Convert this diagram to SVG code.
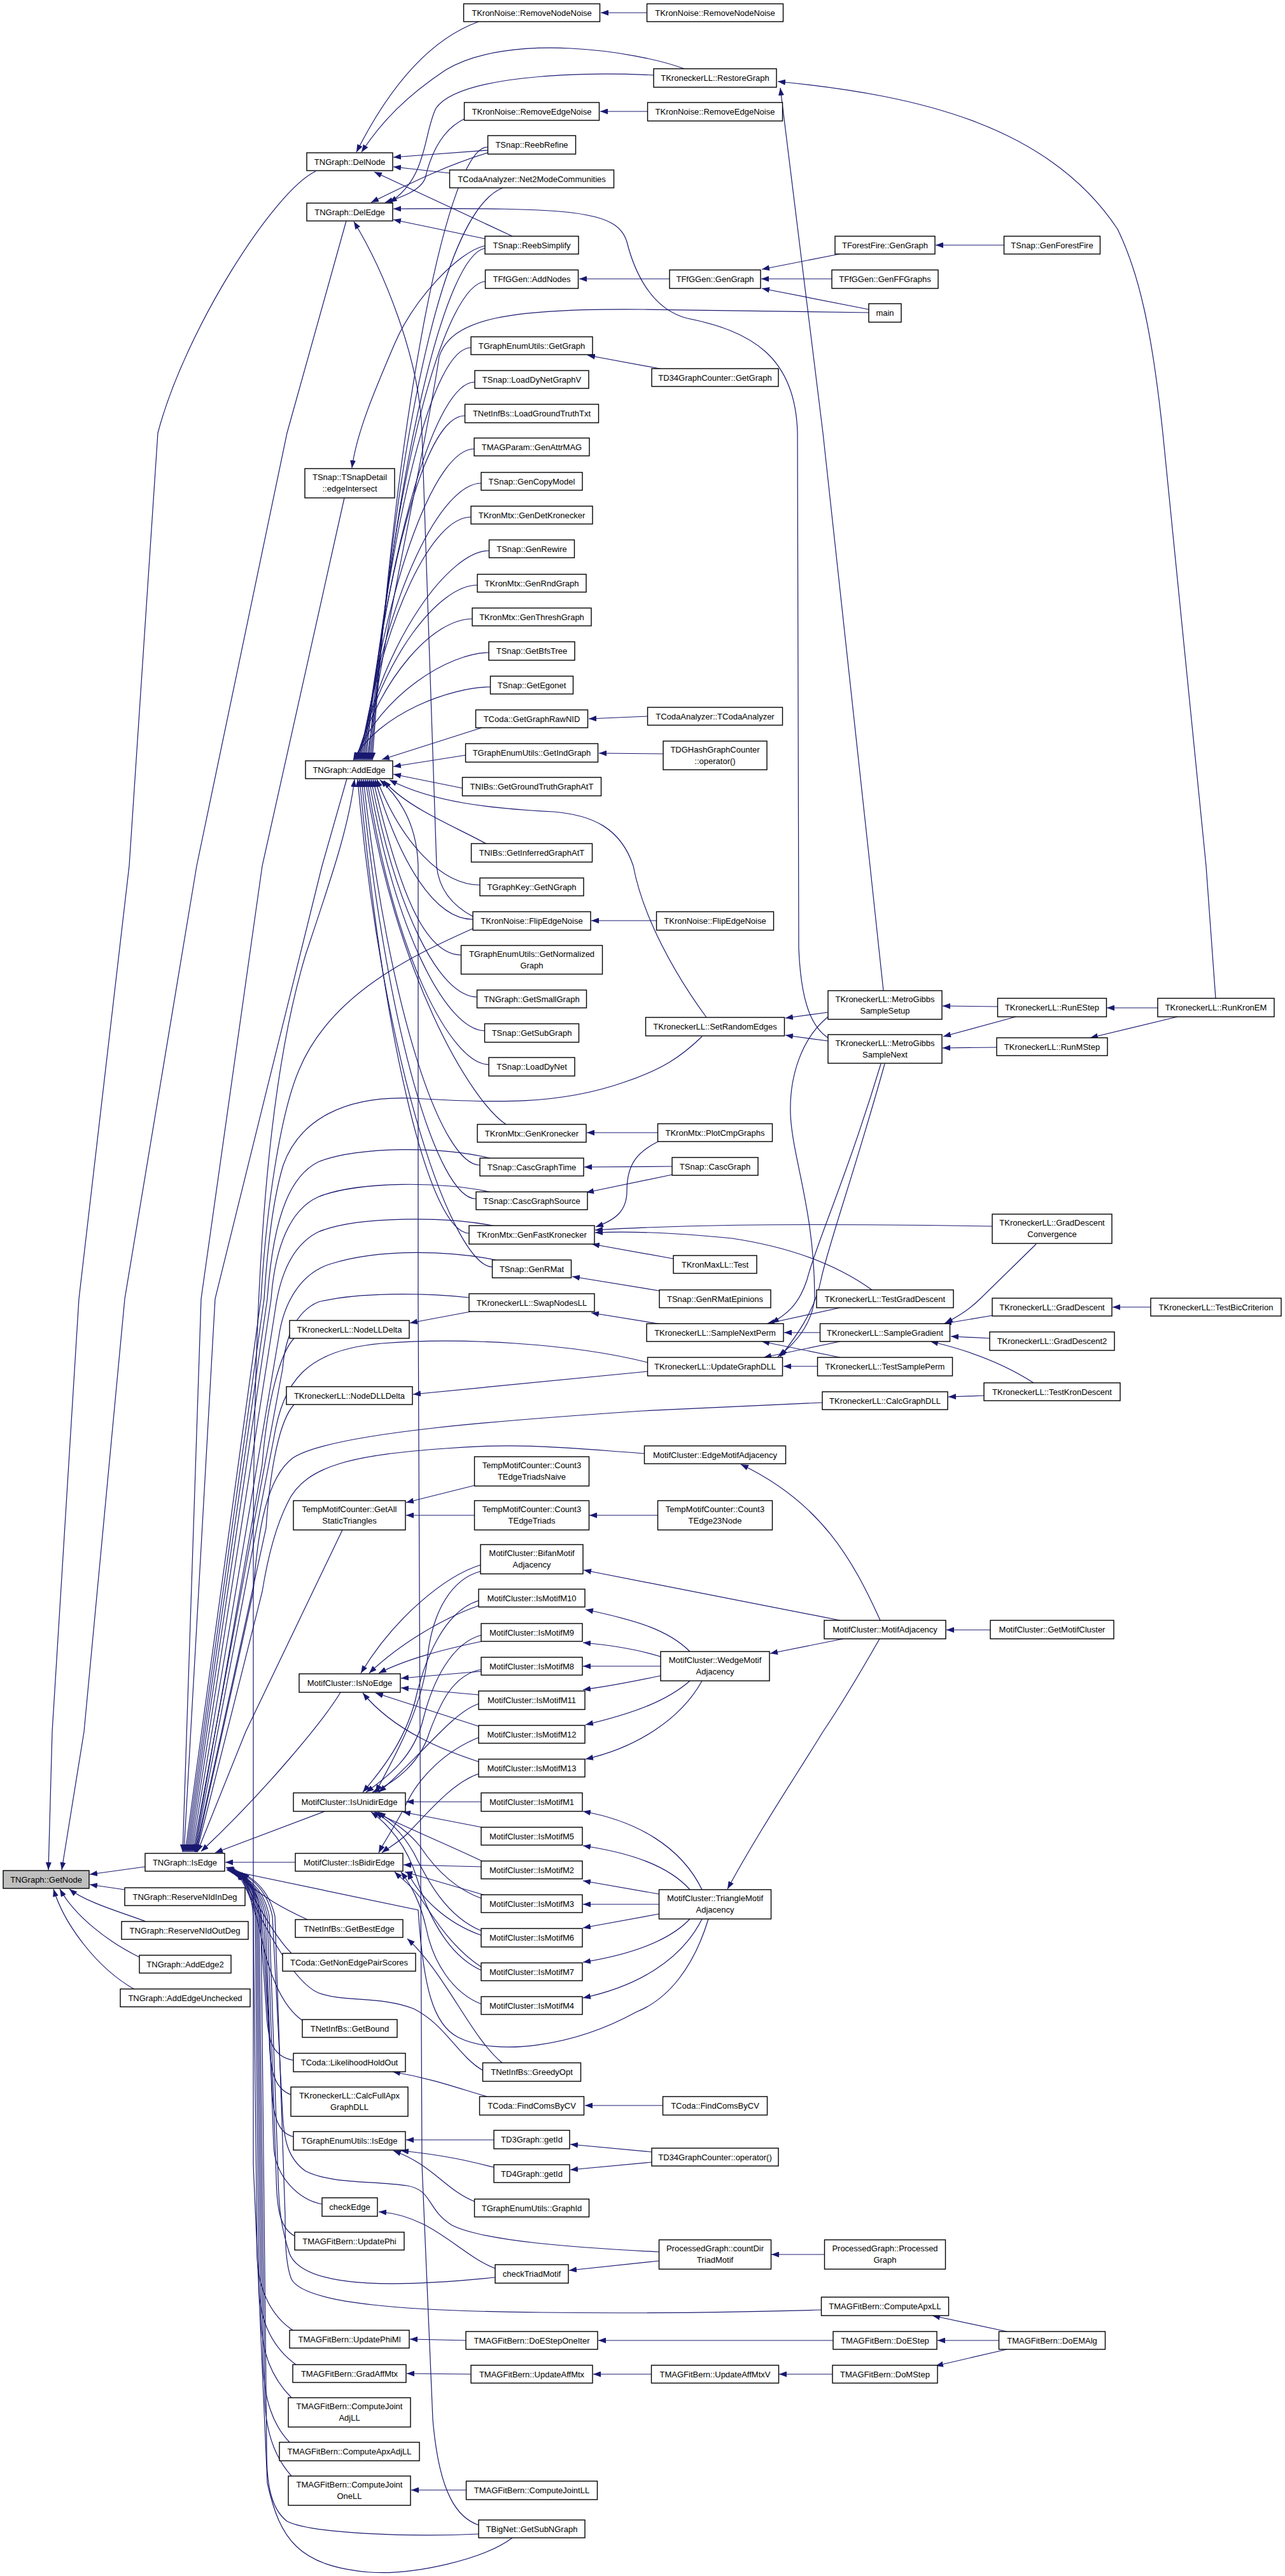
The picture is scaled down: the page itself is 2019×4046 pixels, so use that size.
<svg xmlns="http://www.w3.org/2000/svg" width="2019" height="4046" viewBox="0 0 2019 4046">
<defs>
<marker id="ah" viewBox="0 0 12 9" refX="12" refY="4.5" markerWidth="12" markerHeight="9" markerUnits="userSpaceOnUse" orient="auto"><path d="M0,0 L12,4.5 L0,9 z" fill="#191970"/></marker>
<style>
.n rect{fill:#fff;stroke:#000;stroke-width:1.4}
.n text{font-family:"Liberation Sans",Arial,sans-serif;font-size:13px;text-anchor:middle;fill:#000}
.g rect{fill:#bfbfbf}
#edges path{fill:none;stroke:#191970;stroke-width:1.2;marker-end:url(#ah)}
</style>
</defs>
<rect x="0" y="0" width="2019" height="4046" fill="#fff"/>
<g id="edges">
<path d="M228,2932 L141,2944"/>
<path d="M196,2968 L141,2960"/>
<path d="M229,3018 C195,3005 135,2988 109,2967"/>
<path d="M219,3074 C170,3050 118,3010 94,2967"/>
<path d="M212,3125 C150,3090 100,3020 84,2967"/>
<path d="M496,269 C430,300 290,520 248,680 L203,1360 L124,2040 L82,2720 L76,2937"/>
<path d="M544,347 L451,680 L309,1360 L196,2040 L132,2720 L97,2937"/>
<path d="M752,34 C680,60 615,130 560,239"/>
<path d="M1075,108 C1000,80 800,50 700,110 C640,150 600,190 568,239"/>
<path d="M766,236 L618,247"/>
<path d="M707,272 L618,262"/>
<path d="M805,371 L588,270"/>
<path d="M731,186 C690,205 675,250 668,280 C660,300 630,310 605,318"/>
<path d="M766,240 C700,260 640,290 583,318"/>
<path d="M1027,118 C900,112 720,120 685,170 C665,210 672,280 612,318"/>
<path d="M762,375 L618,345"/>
<path d="M1301,1630 C1270,1610 1258,1560 1255,1490 L1253,680 C1250,560 1180,520 1080,500 C1020,485 995,420 985,380 C970,330 900,326 618,328"/>
<path d="M752,3966 C720,3955 690,3920 680,3800 L663,3400 L657,2040 L657,1360 C655,1290 625,1250 597,1225"/>
<path d="M744,1440 C715,1425 690,1400 686,1360 L663,680 C660,560 600,420 556,348"/>
<path d="M762,386 C720,395 650,470 620,540 C590,610 560,680 553,735"/>
<path d="M766,231 C706,231 625,619 585,1194"/>
<path d="M790,295 C700,330 625,650 583,1194"/>
<path d="M762,390 C702,400 621,712 581,1194"/>
<path d="M763,442 C703,445 619,716 579,1194"/>
<path d="M1365,491 L1010,486 C800,484 710,500 690,560 C670,700 600,1000 577,1194"/>
<path d="M740,546 C680,546 615,805 575,1194"/>
<path d="M746,600 C686,600 613,838 573,1194"/>
<path d="M730,653 C670,653 611,870 571,1194"/>
<path d="M745,705 C685,705 609,900 569,1194"/>
<path d="M756,759 C696,759 607,920 567,1194"/>
<path d="M740,812 C680,812 605,960 565,1194"/>
<path d="M768,865 C708,865 603,1000 563,1194"/>
<path d="M750,919 C690,919 601,1030 561,1194"/>
<path d="M742,972 C682,972 599,1060 559,1194"/>
<path d="M768,1025 C708,1025 597,1090 557,1194"/>
<path d="M770,1079 C710,1079 595,1120 555,1194"/>
<path d="M757,1143 L600,1193"/>
<path d="M732,1186 L618,1204"/>
<path d="M727,1238 L618,1216"/>
<path d="M767,1327 C720,1300 640,1270 603,1226"/>
<path d="M1110,1598 C1060,1530 1010,1440 995,1360 C975,1300 930,1280 870,1275 C770,1270 680,1260 612,1225"/>
<path d="M754,1390 C694,1390 632,1325 592,1224"/>
<path d="M743,1444 C683,1444 629,1357 589,1224"/>
<path d="M725,1500 C665,1500 626,1394 586,1224"/>
<path d="M750,1566 C690,1566 623,1431 583,1224"/>
<path d="M762,1619 C702,1619 620,1463 580,1224"/>
<path d="M768,1672 C708,1672 617,1495 577,1224"/>
<path d="M795,1766 C740,1730 620,1530 574,1224"/>
<path d="M754,1830 C694,1830 611,1589 571,1224"/>
<path d="M748,1883 C688,1883 608,1621 568,1224"/>
<path d="M737,1937 C677,1937 605,1654 565,1224"/>
<path d="M774,1990 C714,1990 602,1685 562,1224"/>
<path d="M805,3986 C760,4020 650,4045 580,4040 C470,4030 440,3990 420,3900 L398,3400 L398,2400 C400,2000 420,1700 480,1500 C520,1380 548,1300 557,1224"/>
<path d="M541,782 L412,1360 L316,2040 L287,2909"/>
<path d="M545,1223 L506,1360 L338,2040 L289,2909"/>
<path d="M744,1458 C650,1500 520,1560 470,1680 C440,1750 418,1900 410,2040 L291,2909"/>
<path d="M1103,1628 C1070,1660 1040,1680 980,1700 C880,1735 780,1733 650,1725 C540,1720 470,1760 445,1830 C430,1880 420,1960 415,2040 L293,2909"/>
<path d="M773,1820 C700,1800 560,1800 500,1825 C460,1845 430,1900 420,2040 L295,2909"/>
<path d="M773,1873 C700,1855 560,1855 500,1880 C455,1900 432,1960 426,2040 L297,2909"/>
<path d="M779,1926 C700,1910 560,1910 500,1935 C460,1955 440,2000 432,2060 L299,2909"/>
<path d="M779,1979 C710,1965 600,1960 520,1985 C470,2000 445,2050 438,2100 L301,2909"/>
<path d="M737,2038 C660,2030 560,2030 500,2045 C465,2060 448,2100 444,2150 L303,2909"/>
<path d="M462,2102 C440,2125 420,2200 412,2300 L305,2909"/>
<path d="M1018,2140 C900,2110 720,2100 600,2110 C480,2120 445,2170 430,2260 L306,2909"/>
<path d="M462,2206 C440,2230 425,2300 418,2400 L307,2909"/>
<path d="M1292,2203 L1010,2216 C800,2230 520,2250 460,2290 C420,2320 405,2400 398,2500 L308,2909"/>
<path d="M1013,2283 C900,2275 820,2265 700,2275 C560,2285 480,2300 452,2360 C432,2400 420,2450 412,2500 L309,2909"/>
<path d="M538,2403 L386,2720 L310,2909"/>
<path d="M535,2658 C510,2700 420,2810 316,2908"/>
<path d="M510,2845 L338,2910"/>
<path d="M464,2925 L354,2925"/>
<path d="M483,3015 C450,3000 410,2980 370,2941"/>
<path d="M458,3068 C430,3040 405,2990 375,2941"/>
<path d="M476,3174 C440,3150 420,3090 410,3040 C400,2990 385,2960 372,2941"/>
<path d="M461,3236 C425,3230 420,3200 418,3150 L408,3010 Q402,2960 368,2940"/>
<path d="M457,3290 C430,3280 424,3250 423,3200 L411,3010 Q404,2958 365,2940"/>
<path d="M461,3356 C435,3350 428,3320 427,3270 L414,3010 Q406,2958 363,2939"/>
<path d="M506,3462 C470,3455 432,3420 430,3370 L417,3010 Q408,2956 361,2938"/>
<path d="M463,3512 C440,3500 435,3470 434,3420 L420,3010 Q410,2954 359,2937"/>
<path d="M778,3577 C650,3590 480,3600 455,3540 C442,3500 438,3470 437,3420 L423,3010 Q412,2952 357,2936"/>
<path d="M1036,3537 C900,3530 760,3520 710,3495 C670,3470 680,3440 640,3433 C580,3425 520,3430 480,3410 C452,3390 446,3360 444,3320 L428,3010 Q416,2950 356,2934"/>
<path d="M1291,3628 C1150,3632 1010,3634 850,3632 C650,3630 480,3620 458,3580 C450,3560 448,3530 448,3480 L432,3010 Q418,2948 355,2933"/>
<path d="M460,3660 C430,3640 404,3600 404,3540 L398,3010 Q395,2962 372,2941"/>
<path d="M465,3714 C432,3690 407,3650 407,3590 L401,3010 Q397,2962 373,2941"/>
<path d="M458,3766 C432,3740 410,3700 410,3640 L403,3010 Q398,2962 374,2941"/>
<path d="M455,3836 C430,3810 413,3770 413,3700 L405,3010 Q400,2962 376,2941"/>
<path d="M458,3889 C432,3860 416,3820 416,3760 L407,3010 Q402,2962 378,2941"/>
<path d="M752,3980 C650,3985 490,3980 451,3960 C425,3940 419,3900 419,3850 L410,3010 Q404,2962 380,2941"/>
<path d="M759,3252 C720,3230 700,3180 650,3155 C600,3135 540,3145 500,3130 C465,3115 420,3040 376,2941"/>
<path d="M1113,3014 C1090,3090 1050,3140 1000,3160 C900,3215 780,3230 720,3200 C680,3180 665,3120 657,3000 L356,2937"/>
<path d="M789,3240 C740,3200 700,3100 640,3045"/>
<path d="M765,3293 C720,3280 680,3265 617,3254"/>
<path d="M1042,3307 L919,3307"/>
<path d="M776,3361 L638,3361"/>
<path d="M776,3404 C740,3395 700,3385 630,3378"/>
<path d="M746,3458 C700,3440 680,3400 618,3378"/>
<path d="M1024,3380 L896,3368"/>
<path d="M1024,3396 L896,3408"/>
<path d="M778,3563 C720,3540 680,3480 595,3474"/>
<path d="M1036,3551 L894,3566"/>
<path d="M1296,3541 L1212,3541"/>
<path d="M732,3676 L644,3674"/>
<path d="M741,3729 L639,3728"/>
<path d="M1024,3729 L932,3729"/>
<path d="M733,3911 L646,3911"/>
<path d="M1309,3676 L940,3676"/>
<path d="M1308,3729 L1224,3729"/>
<path d="M1570,3676 L1473,3676"/>
<path d="M1582,3690 L1470,3716"/>
<path d="M1582,3662 L1465,3637"/>
<path d="M1016,20 L944,20"/>
<path d="M1018,175 L943,175"/>
<path d="M1388,1556 L1367,1360 L1293,680 L1226,138"/>
<path d="M1910,1568 L1895,1360 L1827,680 C1810,520 1790,430 1756,360 C1650,200 1450,150 1222,128"/>
<path d="M1052,438 L910,438"/>
<path d="M1319,399 L1197,423"/>
<path d="M1307,438 L1196,438"/>
<path d="M1365,486 L1197,453"/>
<path d="M1578,385 L1470,385"/>
<path d="M1042,580 L923,558"/>
<path d="M1018,1125 L925,1129"/>
<path d="M1042,1184 L941,1183"/>
<path d="M1032,1446 L929,1446"/>
<path d="M1301,1590 L1234,1599"/>
<path d="M1301,1635 L1234,1626"/>
<path d="M1568,1581 L1481,1580"/>
<path d="M1596,1597 L1482,1628"/>
<path d="M1566,1645 L1481,1646"/>
<path d="M1819,1583 L1739,1583"/>
<path d="M1850,1597 L1713,1630"/>
<path d="M1034,1779 L922,1779"/>
<path d="M1056,1832 L918,1833"/>
<path d="M1056,1845 L921,1873"/>
<path d="M1034,1793 C1000,1810 985,1830 985,1870 C985,1900 970,1915 936,1927"/>
<path d="M1559,1926 C1300,1922 1100,1922 935,1932"/>
<path d="M1370,2026 C1320,1990 1250,1960 1150,1945 C1050,1935 980,1934 935,1936"/>
<path d="M1058,1977 L930,1954"/>
<path d="M1040,2028 L899,2005"/>
<path d="M1040,2080 L929,2062"/>
<path d="M740,2060 L644,2078"/>
<path d="M1018,2154 L649,2190"/>
<path d="M1289,2093 L1232,2093"/>
<path d="M1320,2054 L1205,2079"/>
<path d="M1320,2132 L1197,2107"/>
<path d="M1384,1671 C1330,1850 1280,1960 1268,2010 C1255,2050 1235,2065 1212,2078"/>
<path d="M1301,1597 C1260,1630 1240,1690 1242,1750 C1245,1820 1280,1900 1280,2040 C1275,2080 1250,2110 1222,2131"/>
<path d="M1390,1671 C1340,1850 1300,1960 1290,2010 C1280,2060 1250,2100 1226,2131"/>
<path d="M1320,2107 L1200,2132"/>
<path d="M1285,2146 L1231,2146"/>
<path d="M1560,2066 L1483,2079"/>
<path d="M1628,1954 L1540,2040 C1525,2055 1505,2068 1485,2078"/>
<path d="M1555,2102 L1494,2099"/>
<path d="M1624,2172 C1590,2150 1540,2125 1462,2107"/>
<path d="M1808,2053 L1748,2053"/>
<path d="M1546,2192 L1490,2194"/>
<path d="M746,2333 L638,2360"/>
<path d="M745,2380 L638,2380"/>
<path d="M1034,2380 L926,2380"/>
<path d="M1556,2560 L1487,2560"/>
<path d="M1320,2545 L917,2466"/>
<path d="M1383,2545 C1340,2450 1290,2360 1164,2300"/>
<path d="M1325,2574 L1210,2597"/>
<path d="M1382,2574 C1350,2630 1320,2680 1293,2720 C1250,2790 1190,2880 1143,2967"/>
<path d="M1084,2594 C1050,2560 1000,2545 920,2528"/>
<path d="M1038,2602 C1000,2590 960,2584 916,2580"/>
<path d="M1038,2617 L916,2617"/>
<path d="M1038,2632 C1000,2640 960,2648 916,2654"/>
<path d="M1084,2640 C1050,2670 1000,2690 920,2709"/>
<path d="M1103,2640 C1070,2700 1000,2745 920,2763"/>
<path d="M1103,2968 C1070,2900 1000,2860 916,2845"/>
<path d="M1084,2968 C1050,2930 990,2910 916,2899"/>
<path d="M1036,2975 L916,2954"/>
<path d="M1036,2991 L916,2991"/>
<path d="M1036,3006 L916,3028"/>
<path d="M1084,3014 C1050,3050 990,3070 916,3082"/>
<path d="M1103,3014 C1070,3080 1000,3120 916,3138"/>
<path d="M755,2458 C700,2475 620,2540 567,2628"/>
<path d="M755,2468 C710,2480 680,2530 672,2600 C665,2680 620,2760 590,2815"/>
<path d="M752,2522 C700,2540 630,2580 580,2628"/>
<path d="M752,2514 C700,2530 670,2600 655,2660 C640,2730 600,2780 570,2815"/>
<path d="M757,2578 C700,2590 640,2605 595,2628"/>
<path d="M757,2568 C710,2580 680,2640 665,2700 C650,2760 610,2790 575,2815"/>
<path d="M757,2625 L630,2636"/>
<path d="M757,2622 C710,2630 690,2680 675,2720 C660,2770 620,2800 585,2815"/>
<path d="M752,2662 L630,2651"/>
<path d="M752,2676 C710,2690 660,2760 595,2815"/>
<path d="M754,2712 L590,2659"/>
<path d="M752,2729 C700,2750 660,2790 640,2830 C620,2870 605,2890 595,2910"/>
<path d="M752,2767 C700,2750 620,2720 570,2659"/>
<path d="M752,2786 C710,2800 670,2850 640,2880 C625,2895 610,2902 600,2910"/>
<path d="M756,2830 L638,2830"/>
<path d="M757,2870 L633,2846"/>
<path d="M757,2932 L634,2929"/>
<path d="M757,2923 C720,2905 660,2880 588,2846"/>
<path d="M763,2977 L636,2940"/>
<path d="M757,2982 C710,2965 680,2930 660,2900 C640,2875 615,2860 594,2846"/>
<path d="M757,3040 C700,3020 660,2980 640,2940"/>
<path d="M757,3033 C700,3010 670,2950 650,2910 C630,2875 610,2860 590,2846"/>
<path d="M757,3095 C700,3070 670,3000 655,2950 C640,2900 610,2865 583,2846"/>
<path d="M757,3090 C710,3060 680,3010 660,2980 C645,2960 630,2950 620,2940"/>
<path d="M757,3148 C710,3130 680,3080 670,3030 C660,2985 645,2960 630,2940"/>
</g>
<g id="nodes">
<g id="n_getnode" class="n g"><rect x="5" y="2938" width="135" height="28"/><text x="72.5" y="2957">TNGraph::GetNode</text></g>
<g id="n_isedge" class="n"><rect x="228" y="2911" width="125" height="28"/><text x="290.5" y="2930">TNGraph::IsEdge</text></g>
<g id="n_reservein" class="n"><rect x="196" y="2965" width="189" height="28"/><text x="290.5" y="2984">TNGraph::ReserveNIdInDeg</text></g>
<g id="n_reserveout" class="n"><rect x="191" y="3018" width="199" height="28"/><text x="290.5" y="3037">TNGraph::ReserveNIdOutDeg</text></g>
<g id="n_addedge2" class="n"><rect x="219" y="3071" width="144" height="28"/><text x="291" y="3090">TNGraph::AddEdge2</text></g>
<g id="n_addedgeunch" class="n"><rect x="189" y="3124" width="204" height="28"/><text x="291" y="3143">TNGraph::AddEdgeUnchecked</text></g>
<g id="n_delnode" class="n"><rect x="482" y="240" width="135" height="28"/><text x="549.5" y="259">TNGraph::DelNode</text></g>
<g id="n_deledge" class="n"><rect x="482" y="319" width="135" height="28"/><text x="549.5" y="338">TNGraph::DelEdge</text></g>
<g id="n_edgeint" class="n"><rect x="479" y="736" width="141" height="46"/><text x="549.5" y="754">TSnap::TSnapDetail</text><text x="549.5" y="772">::edgeIntersect</text></g>
<g id="n_addedge" class="n"><rect x="480" y="1195" width="137" height="28"/><text x="548.5" y="1214">TNGraph::AddEdge</text></g>
<g id="n_nodelldelta" class="n"><rect x="455" y="2074" width="188" height="28"/><text x="549" y="2093">TKroneckerLL::NodeLLDelta</text></g>
<g id="n_nodedlldelta" class="n"><rect x="450" y="2178" width="198" height="28"/><text x="549" y="2197">TKroneckerLL::NodeDLLDelta</text></g>
<g id="n_getallstatic" class="n"><rect x="461" y="2357" width="176" height="46"/><text x="549" y="2375">TempMotifCounter::GetAll</text><text x="549" y="2393">StaticTriangles</text></g>
<g id="n_isnoedge" class="n"><rect x="470" y="2629" width="159" height="29"/><text x="549.5" y="2648">MotifCluster::IsNoEdge</text></g>
<g id="n_isunidir" class="n"><rect x="461" y="2816" width="176" height="29"/><text x="549" y="2835">MotifCluster::IsUnidirEdge</text></g>
<g id="n_isbidir" class="n"><rect x="464" y="2911" width="169" height="28"/><text x="548.5" y="2930">MotifCluster::IsBidirEdge</text></g>
<g id="n_getbestedge" class="n"><rect x="464" y="3015" width="169" height="28"/><text x="548.5" y="3034">TNetInfBs::GetBestEdge</text></g>
<g id="n_getnonedge" class="n"><rect x="444" y="3068" width="209" height="28"/><text x="548.5" y="3087">TCoda::GetNonEdgePairScores</text></g>
<g id="n_getbound" class="n"><rect x="475" y="3172" width="149" height="28"/><text x="549.5" y="3191">TNetInfBs::GetBound</text></g>
<g id="n_likelihood" class="n"><rect x="461" y="3225" width="176" height="29"/><text x="549" y="3244">TCoda::LikelihoodHoldOut</text></g>
<g id="n_calcfullapx" class="n"><rect x="457" y="3278" width="184" height="46"/><text x="549" y="3296">TKroneckerLL::CalcFullApx</text><text x="549" y="3314">GraphDLL</text></g>
<g id="n_tgeuisedge" class="n"><rect x="461" y="3348" width="176" height="29"/><text x="549" y="3367">TGraphEnumUtils::IsEdge</text></g>
<g id="n_checkedge" class="n"><rect x="506" y="3452" width="87" height="29"/><text x="549.5" y="3471">checkEdge</text></g>
<g id="n_updatephi" class="n"><rect x="463" y="3506" width="172" height="28"/><text x="549" y="3525">TMAGFitBern::UpdatePhi</text></g>
<g id="n_updatephiml" class="n"><rect x="455" y="3660" width="188" height="28"/><text x="549" y="3679">TMAGFitBern::UpdatePhiMl</text></g>
<g id="n_gradaffmtx" class="n"><rect x="460" y="3714" width="178" height="28"/><text x="549" y="3733">TMAGFitBern::GradAffMtx</text></g>
<g id="n_cjadjll" class="n"><rect x="453" y="3766" width="192" height="46"/><text x="549" y="3784">TMAGFitBern::ComputeJoint</text><text x="549" y="3802">AdjLL</text></g>
<g id="n_capxadjll" class="n"><rect x="439" y="3836" width="220" height="29"/><text x="549" y="3855">TMAGFitBern::ComputeApxAdjLL</text></g>
<g id="n_cjonell" class="n"><rect x="453" y="3889" width="192" height="46"/><text x="549" y="3907">TMAGFitBern::ComputeJoint</text><text x="549" y="3925">OneLL</text></g>
<g id="n_rmnodenoise3" class="n"><rect x="728.5" y="6" width="214" height="28"/><text x="835.5" y="25">TKronNoise::RemoveNodeNoise</text></g>
<g id="n_rmedgenoise3" class="n"><rect x="729.5" y="161" width="212" height="28"/><text x="835.5" y="180">TKronNoise::RemoveEdgeNoise</text></g>
<g id="n_reebrefine" class="n"><rect x="766.5" y="213" width="138" height="29"/><text x="835.5" y="232">TSnap::ReebRefine</text></g>
<g id="n_net2mode" class="n"><rect x="706.5" y="267" width="258" height="28"/><text x="835.5" y="286">TCodaAnalyzer::Net2ModeCommunities</text></g>
<g id="n_reebsimplify" class="n"><rect x="762" y="371" width="147" height="28"/><text x="835.5" y="390">TSnap::ReebSimplify</text></g>
<g id="n_addnodes" class="n"><rect x="762.5" y="424" width="146" height="29"/><text x="835.5" y="443">TFfGGen::AddNodes</text></g>
<g id="n_getgraph3" class="n"><rect x="740" y="529" width="191" height="28"/><text x="835.5" y="548">TGraphEnumUtils::GetGraph</text></g>
<g id="n_loaddynetgraphv" class="n"><rect x="746" y="582" width="179" height="28"/><text x="835.5" y="601">TSnap::LoadDyNetGraphV</text></g>
<g id="n_loadgroundtruth" class="n"><rect x="730.5" y="635" width="210" height="29"/><text x="835.5" y="654">TNetInfBs::LoadGroundTruthTxt</text></g>
<g id="n_genattrmag" class="n"><rect x="745" y="688" width="181" height="28"/><text x="835.5" y="707">TMAGParam::GenAttrMAG</text></g>
<g id="n_gencopymodel" class="n"><rect x="756" y="742" width="159" height="28"/><text x="835.5" y="761">TSnap::GenCopyModel</text></g>
<g id="n_gendetkron" class="n"><rect x="740" y="795" width="191" height="28"/><text x="835.5" y="814">TKronMtx::GenDetKronecker</text></g>
<g id="n_genrewire" class="n"><rect x="768.5" y="848" width="134" height="28"/><text x="835.5" y="867">TSnap::GenRewire</text></g>
<g id="n_genrndgraph" class="n"><rect x="750" y="902" width="171" height="28"/><text x="835.5" y="921">TKronMtx::GenRndGraph</text></g>
<g id="n_genthresh" class="n"><rect x="742" y="955" width="187" height="28"/><text x="835.5" y="974">TKronMtx::GenThreshGraph</text></g>
<g id="n_getbfstree" class="n"><rect x="768" y="1008" width="135" height="29"/><text x="835.5" y="1027">TSnap::GetBfsTree</text></g>
<g id="n_getegonet" class="n"><rect x="770.5" y="1062" width="130" height="28"/><text x="835.5" y="1081">TSnap::GetEgonet</text></g>
<g id="n_getgraphrawnid" class="n"><rect x="747.5" y="1115" width="176" height="28"/><text x="835.5" y="1134">TCoda::GetGraphRawNID</text></g>
<g id="n_getindgraph" class="n"><rect x="731.5" y="1168" width="208" height="29"/><text x="835.5" y="1187">TGraphEnumUtils::GetIndGraph</text></g>
<g id="n_getgroundtruth" class="n"><rect x="726.5" y="1221" width="218" height="29"/><text x="835.5" y="1240">TNIBs::GetGroundTruthGraphAtT</text></g>
<g id="n_getinferred" class="n"><rect x="740.5" y="1325" width="190" height="29"/><text x="835.5" y="1344">TNIBs::GetInferredGraphAtT</text></g>
<g id="n_getngraph" class="n"><rect x="754" y="1379" width="163" height="28"/><text x="835.5" y="1398">TGraphKey::GetNGraph</text></g>
<g id="n_flipedge3" class="n"><rect x="743" y="1432" width="185" height="29"/><text x="835.5" y="1451">TKronNoise::FlipEdgeNoise</text></g>
<g id="n_getnormalized" class="n"><rect x="724.5" y="1485" width="222" height="45"/><text x="835.5" y="1503">TGraphEnumUtils::GetNormalized</text><text x="835.5" y="1521">Graph</text></g>
<g id="n_getsmallgraph" class="n"><rect x="749.5" y="1555" width="172" height="28"/><text x="835.5" y="1574">TNGraph::GetSmallGraph</text></g>
<g id="n_getsubgraph" class="n"><rect x="761.5" y="1608" width="148" height="29"/><text x="835.5" y="1627">TSnap::GetSubGraph</text></g>
<g id="n_loaddynet" class="n"><rect x="768" y="1661" width="135" height="29"/><text x="835.5" y="1680">TSnap::LoadDyNet</text></g>
<g id="n_genkronecker" class="n"><rect x="750" y="1766" width="171" height="28"/><text x="835.5" y="1785">TKronMtx::GenKronecker</text></g>
<g id="n_cascgraphtime" class="n"><rect x="754" y="1819" width="163" height="28"/><text x="835.5" y="1838">TSnap::CascGraphTime</text></g>
<g id="n_cascgraphsource" class="n"><rect x="748" y="1872" width="175" height="28"/><text x="835.5" y="1891">TSnap::CascGraphSource</text></g>
<g id="n_genfastkron" class="n"><rect x="737" y="1925" width="197" height="29"/><text x="835.5" y="1944">TKronMtx::GenFastKronecker</text></g>
<g id="n_genrmat" class="n"><rect x="773.5" y="1979" width="124" height="28"/><text x="835.5" y="1998">TSnap::GenRMat</text></g>
<g id="n_swapnodesll" class="n"><rect x="737" y="2032" width="197" height="28"/><text x="835.5" y="2051">TKroneckerLL::SwapNodesLL</text></g>
<g id="n_count3naive" class="n"><rect x="745.5" y="2288" width="180" height="46"/><text x="835.5" y="2306">TempMotifCounter::Count3</text><text x="835.5" y="2324">TEdgeTriadsNaive</text></g>
<g id="n_count3triads" class="n"><rect x="745.5" y="2357" width="180" height="46"/><text x="835.5" y="2375">TempMotifCounter::Count3</text><text x="835.5" y="2393">TEdgeTriads</text></g>
<g id="n_bifan" class="n"><rect x="755" y="2426" width="161" height="46"/><text x="835.5" y="2444">MotifCluster::BifanMotif</text><text x="835.5" y="2462">Adjacency</text></g>
<g id="n_m10" class="n"><rect x="752" y="2496" width="167" height="28"/><text x="835.5" y="2515">MotifCluster::IsMotifM10</text></g>
<g id="n_m9" class="n"><rect x="756" y="2550" width="159" height="28"/><text x="835.5" y="2569">MotifCluster::IsMotifM9</text></g>
<g id="n_m8" class="n"><rect x="756" y="2603" width="159" height="28"/><text x="835.5" y="2622">MotifCluster::IsMotifM8</text></g>
<g id="n_m11" class="n"><rect x="752" y="2656" width="167" height="29"/><text x="835.5" y="2675">MotifCluster::IsMotifM11</text></g>
<g id="n_m12" class="n"><rect x="752" y="2710" width="167" height="28"/><text x="835.5" y="2729">MotifCluster::IsMotifM12</text></g>
<g id="n_m13" class="n"><rect x="752" y="2763" width="167" height="28"/><text x="835.5" y="2782">MotifCluster::IsMotifM13</text></g>
<g id="n_m1" class="n"><rect x="756" y="2816" width="159" height="29"/><text x="835.5" y="2835">MotifCluster::IsMotifM1</text></g>
<g id="n_m5" class="n"><rect x="756" y="2870" width="159" height="28"/><text x="835.5" y="2889">MotifCluster::IsMotifM5</text></g>
<g id="n_m2" class="n"><rect x="756" y="2923" width="159" height="28"/><text x="835.5" y="2942">MotifCluster::IsMotifM2</text></g>
<g id="n_m3" class="n"><rect x="756" y="2976" width="159" height="28"/><text x="835.5" y="2995">MotifCluster::IsMotifM3</text></g>
<g id="n_m6" class="n"><rect x="756" y="3029" width="159" height="29"/><text x="835.5" y="3048">MotifCluster::IsMotifM6</text></g>
<g id="n_m7" class="n"><rect x="756" y="3083" width="159" height="28"/><text x="835.5" y="3102">MotifCluster::IsMotifM7</text></g>
<g id="n_m4" class="n"><rect x="756" y="3136" width="159" height="28"/><text x="835.5" y="3155">MotifCluster::IsMotifM4</text></g>
<g id="n_greedyopt" class="n"><rect x="758.5" y="3240" width="154" height="29"/><text x="835.5" y="3259">TNetInfBs::GreedyOpt</text></g>
<g id="n_findcoms3" class="n"><rect x="753.5" y="3293" width="164" height="29"/><text x="835.5" y="3312">TCoda::FindComsByCV</text></g>
<g id="n_td3getid" class="n"><rect x="776" y="3346" width="119" height="29"/><text x="835.5" y="3365">TD3Graph::getId</text></g>
<g id="n_td4getid" class="n"><rect x="776" y="3400" width="119" height="28"/><text x="835.5" y="3419">TD4Graph::getId</text></g>
<g id="n_graphid" class="n"><rect x="745.5" y="3454" width="180" height="28"/><text x="835.5" y="3473">TGraphEnumUtils::GraphId</text></g>
<g id="n_checktriad" class="n"><rect x="778" y="3557" width="115" height="29"/><text x="835.5" y="3576">checkTriadMotif</text></g>
<g id="n_doestep1iter" class="n"><rect x="732" y="3662" width="207" height="28"/><text x="835.5" y="3681">TMAGFitBern::DoEStepOneIter</text></g>
<g id="n_updateaffmtx" class="n"><rect x="740" y="3715" width="191" height="28"/><text x="835.5" y="3734">TMAGFitBern::UpdateAffMtx</text></g>
<g id="n_computejointll" class="n"><rect x="732.5" y="3897" width="206" height="29"/><text x="835.5" y="3916">TMAGFitBern::ComputeJointLL</text></g>
<g id="n_getsubngraph" class="n"><rect x="752" y="3958" width="167" height="28"/><text x="835.5" y="3977">TBigNet::GetSubNGraph</text></g>
<g id="n_rmnodenoise4" class="n"><rect x="1016.5" y="6" width="214" height="28"/><text x="1123.5" y="25">TKronNoise::RemoveNodeNoise</text></g>
<g id="n_restoregraph" class="n"><rect x="1027" y="108" width="193" height="29"/><text x="1123.5" y="127">TKroneckerLL::RestoreGraph</text></g>
<g id="n_rmedgenoise4" class="n"><rect x="1017.5" y="161" width="212" height="29"/><text x="1123.5" y="180">TKronNoise::RemoveEdgeNoise</text></g>
<g id="n_ffggengengraph" class="n"><rect x="1052" y="424" width="143" height="29"/><text x="1123.5" y="443">TFfGGen::GenGraph</text></g>
<g id="n_td34getgraph" class="n"><rect x="1024" y="579" width="199" height="28"/><text x="1123.5" y="598">TD34GraphCounter::GetGraph</text></g>
<g id="n_tcodaanalyzer" class="n"><rect x="1017.5" y="1111" width="212" height="28"/><text x="1123.5" y="1130">TCodaAnalyzer::TCodaAnalyzer</text></g>
<g id="n_tdghash" class="n"><rect x="1042" y="1164" width="163" height="45"/><text x="1123.5" y="1182">TDGHashGraphCounter</text><text x="1123.5" y="1200">::operator()</text></g>
<g id="n_flipedge4" class="n"><rect x="1031.5" y="1432" width="184" height="29"/><text x="1123.5" y="1451">TKronNoise::FlipEdgeNoise</text></g>
<g id="n_setrandomedges" class="n"><rect x="1014.5" y="1598" width="218" height="29"/><text x="1123.5" y="1617">TKroneckerLL::SetRandomEdges</text></g>
<g id="n_plotcmpgraphs" class="n"><rect x="1033.5" y="1765" width="180" height="28"/><text x="1123.5" y="1784">TKronMtx::PlotCmpGraphs</text></g>
<g id="n_cascgraph" class="n"><rect x="1056" y="1818" width="135" height="28"/><text x="1123.5" y="1837">TSnap::CascGraph</text></g>
<g id="n_kronmaxlltest" class="n"><rect x="1058" y="1972" width="131" height="28"/><text x="1123.5" y="1991">TKronMaxLL::Test</text></g>
<g id="n_genrmatepinions" class="n"><rect x="1036" y="2026" width="175" height="28"/><text x="1123.5" y="2045">TSnap::GenRMatEpinions</text></g>
<g id="n_samplenextperm" class="n"><rect x="1016" y="2079" width="215" height="28"/><text x="1123.5" y="2098">TKroneckerLL::SampleNextPerm</text></g>
<g id="n_updategraphdll" class="n"><rect x="1017.5" y="2132" width="212" height="29"/><text x="1123.5" y="2151">TKroneckerLL::UpdateGraphDLL</text></g>
<g id="n_edgemotif" class="n"><rect x="1012.5" y="2271" width="222" height="28"/><text x="1123.5" y="2290">MotifCluster::EdgeMotifAdjacency</text></g>
<g id="n_count3edge23" class="n"><rect x="1033.5" y="2357" width="180" height="46"/><text x="1123.5" y="2375">TempMotifCounter::Count3</text><text x="1123.5" y="2393">TEdge23Node</text></g>
<g id="n_wedge" class="n"><rect x="1038" y="2594" width="171" height="46"/><text x="1123.5" y="2612">MotifCluster::WedgeMotif</text><text x="1123.5" y="2630">Adjacency</text></g>
<g id="n_triangle" class="n"><rect x="1035.5" y="2968" width="176" height="46"/><text x="1123.5" y="2986">MotifCluster::TriangleMotif</text><text x="1123.5" y="3004">Adjacency</text></g>
<g id="n_findcoms4" class="n"><rect x="1041.5" y="3293" width="164" height="29"/><text x="1123.5" y="3312">TCoda::FindComsByCV</text></g>
<g id="n_td34op" class="n"><rect x="1024" y="3374" width="199" height="28"/><text x="1123.5" y="3393">TD34GraphCounter::operator()</text></g>
<g id="n_countdir" class="n"><rect x="1035.5" y="3518" width="176" height="46"/><text x="1123.5" y="3536">ProcessedGraph::countDir</text><text x="1123.5" y="3554">TriadMotif</text></g>
<g id="n_updateaffmtxv" class="n"><rect x="1023.5" y="3715" width="200" height="28"/><text x="1123.5" y="3734">TMAGFitBern::UpdateAffMtxV</text></g>
<g id="n_forestfiregengraph" class="n"><rect x="1312" y="371" width="157" height="28"/><text x="1390.5" y="390">TForestFire::GenGraph</text></g>
<g id="n_genffgraphs" class="n"><rect x="1307" y="424" width="167" height="29"/><text x="1390.5" y="443">TFfGGen::GenFFGraphs</text></g>
<g id="n_main" class="n"><rect x="1365" y="477" width="51" height="29"/><text x="1390.5" y="496">main</text></g>
<g id="n_samplesetup" class="n"><rect x="1301" y="1556" width="179" height="45"/><text x="1390.5" y="1574">TKroneckerLL::MetroGibbs</text><text x="1390.5" y="1592">SampleSetup</text></g>
<g id="n_samplenext" class="n"><rect x="1301" y="1625" width="179" height="45"/><text x="1390.5" y="1643">TKroneckerLL::MetroGibbs</text><text x="1390.5" y="1661">SampleNext</text></g>
<g id="n_testgraddescent" class="n"><rect x="1283" y="2026" width="215" height="28"/><text x="1390.5" y="2045">TKroneckerLL::TestGradDescent</text></g>
<g id="n_samplegradient" class="n"><rect x="1288.5" y="2079" width="204" height="28"/><text x="1390.5" y="2098">TKroneckerLL::SampleGradient</text></g>
<g id="n_testsampleperm" class="n"><rect x="1284.5" y="2132" width="212" height="29"/><text x="1390.5" y="2151">TKroneckerLL::TestSamplePerm</text></g>
<g id="n_calcgraphdll" class="n"><rect x="1292" y="2186" width="197" height="28"/><text x="1390.5" y="2205">TKroneckerLL::CalcGraphDLL</text></g>
<g id="n_motifadj" class="n"><rect x="1295" y="2545" width="191" height="29"/><text x="1390.5" y="2564">MotifCluster::MotifAdjacency</text></g>
<g id="n_processedgraph" class="n"><rect x="1295.5" y="3518" width="190" height="46"/><text x="1390.5" y="3536">ProcessedGraph::Processed</text><text x="1390.5" y="3554">Graph</text></g>
<g id="n_computeapxll" class="n"><rect x="1290.5" y="3608" width="200" height="29"/><text x="1390.5" y="3627">TMAGFitBern::ComputeApxLL</text></g>
<g id="n_doestep" class="n"><rect x="1309" y="3662" width="163" height="28"/><text x="1390.5" y="3681">TMAGFitBern::DoEStep</text></g>
<g id="n_domstep" class="n"><rect x="1308" y="3715" width="165" height="28"/><text x="1390.5" y="3734">TMAGFitBern::DoMStep</text></g>
<g id="n_genforestfire" class="n"><rect x="1577.5" y="371" width="151" height="28"/><text x="1653" y="390">TSnap::GenForestFire</text></g>
<g id="n_runestep" class="n"><rect x="1567.5" y="1568" width="171" height="29"/><text x="1653" y="1587">TKroneckerLL::RunEStep</text></g>
<g id="n_runmstep" class="n"><rect x="1566" y="1630" width="174" height="28"/><text x="1653" y="1649">TKroneckerLL::RunMStep</text></g>
<g id="n_graddescconv" class="n"><rect x="1559" y="1907" width="188" height="46"/><text x="1653" y="1925">TKroneckerLL::GradDescent</text><text x="1653" y="1943">Convergence</text></g>
<g id="n_graddescent" class="n"><rect x="1559" y="2039" width="188" height="28"/><text x="1653" y="2058">TKroneckerLL::GradDescent</text></g>
<g id="n_graddescent2" class="n"><rect x="1555" y="2092" width="196" height="29"/><text x="1653" y="2111">TKroneckerLL::GradDescent2</text></g>
<g id="n_testkrondescent" class="n"><rect x="1546" y="2172" width="214" height="28"/><text x="1653" y="2191">TKroneckerLL::TestKronDescent</text></g>
<g id="n_getmotifcluster" class="n"><rect x="1556" y="2545" width="194" height="29"/><text x="1653" y="2564">MotifCluster::GetMotifCluster</text></g>
<g id="n_doemalg" class="n"><rect x="1569.5" y="3662" width="167" height="28"/><text x="1653" y="3681">TMAGFitBern::DoEMAlg</text></g>
<g id="n_runkronem" class="n"><rect x="1819" y="1568" width="183" height="29"/><text x="1910.5" y="1587">TKroneckerLL::RunKronEM</text></g>
<g id="n_testbic" class="n"><rect x="1808" y="2039" width="205" height="28"/><text x="1910.5" y="2058">TKroneckerLL::TestBicCriterion</text></g>
</g>
</svg>
